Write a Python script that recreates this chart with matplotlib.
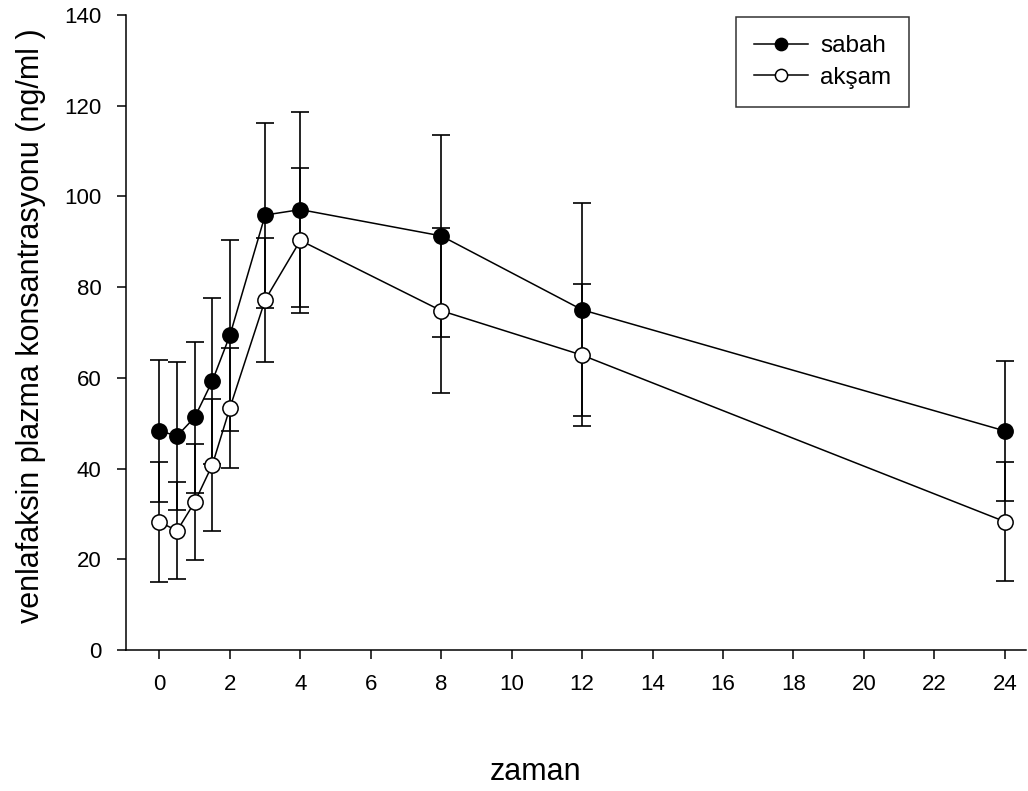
import numpy as np
import matplotlib
matplotlib.use("Agg")
import matplotlib.pyplot as plt

plt.rcParams['font.family'] = ['Liberation Sans', 'DejaVu Sans']

# time points (zaman)
zaman = [0, 0.5, 1, 1.5, 2, 3, 4, 8, 12, 24]

# sabah (morning) means and sd
sabah = [48.3, 47.2, 51.3, 59.3, 69.4, 95.9, 97.1, 91.3, 75.0, 48.3]
sabah_sd = [15.6, 16.3, 16.7, 18.4, 21.1, 20.4, 21.5, 22.3, 23.5, 15.5]

# aksam (evening) means and sd
aksam = [28.2, 26.3, 32.6, 40.8, 53.4, 77.2, 90.3, 74.8, 65.0, 28.3]
aksam_sd = [13.2, 10.7, 12.8, 14.5, 13.2, 13.7, 15.9, 18.2, 15.6, 13.2]

xticks = list(range(0, 25, 2))
yticks = list(range(0, 141, 20))

fig = plt.figure(figsize=(10.28, 7.91), dpi=100)
ax = fig.add_axes([0.1226, 0.1783, 0.8754, 0.8027])

ax.errorbar(zaman, sabah, yerr=sabah_sd, fmt='none', ecolor='black',
            elinewidth=1.2, capsize=6.5, capthick=1.2, zorder=2)
ax.errorbar(zaman, aksam, yerr=aksam_sd, fmt='none', ecolor='black',
            elinewidth=1.2, capsize=6.5, capthick=1.2, zorder=2)

ax.plot(zaman, sabah, color='black', lw=1.1, marker='o', markersize=11,
        markerfacecolor='black', markeredgecolor='black', markeredgewidth=1.1,
        label='sabah', zorder=3)
ax.plot(zaman, aksam, color='black', lw=1.1, marker='o', markersize=11,
        markerfacecolor='white', markeredgecolor='black', markeredgewidth=1.1,
        label='akşam', zorder=3)

ax.set_xlim(-0.95, 24.6)
ax.set_ylim(0, 140)
ax.set_xticks(xticks)
ax.set_yticks(yticks)
ax.tick_params(direction='out', length=6.5, width=1.1, labelsize=16)
ax.tick_params(axis='x', pad=11)
ax.tick_params(axis='y', pad=11)

ax.spines['top'].set_visible(False)
ax.spines['right'].set_visible(False)
ax.spines['left'].set_linewidth(1.1)
ax.spines['bottom'].set_linewidth(1.1)

fig.text(0.030, 0.588, 'venlafaksin plazma konsantrasyonu (ng/ml )', fontsize=22,
         rotation=90, ha='center', va='center')
fig.text(0.521, 0.0139, 'zaman', fontsize=22, ha='center', va='baseline')

leg = ax.legend(loc='upper left', bbox_to_anchor=(0.678, 0.997), borderaxespad=0,
                fancybox=False, edgecolor='black', fontsize=17.5, markerscale=0.8,
                handlelength=2.2, handletextpad=0.5, borderpad=0.75, labelspacing=0.4)
leg.get_frame().set_linewidth(1.1)

fig.savefig('out.png', dpi=100)
